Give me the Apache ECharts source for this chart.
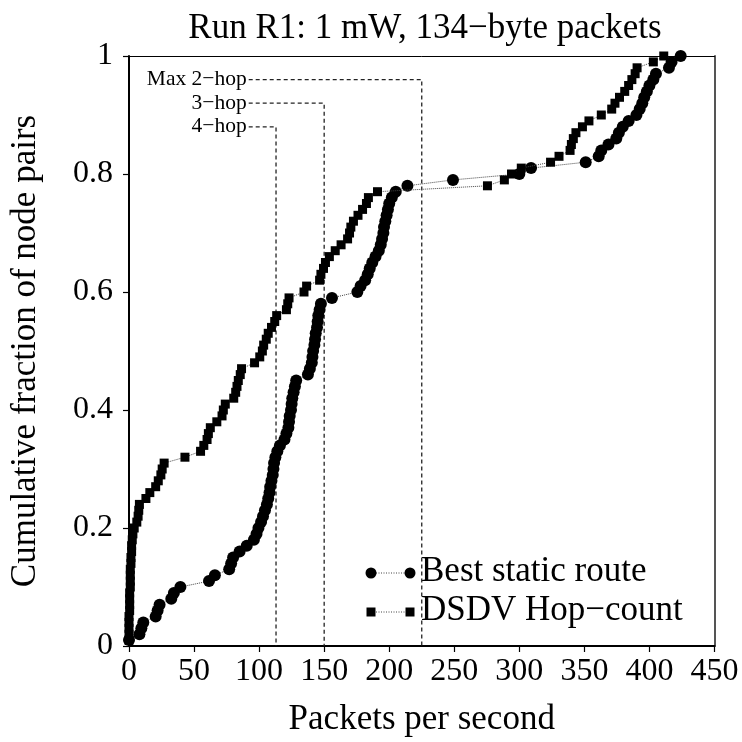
<!DOCTYPE html>
<html>
<head>
<meta charset="utf-8">
<style>
  html, body { margin: 0; padding: 0; background: #fff; }
  #chart { width: 742px; height: 742px; }
</style>
<script src="https://cdn.jsdelivr.net/npm/echarts@6/dist/echarts.min.js"></script>
</head>
<body>
<div id="chart"></div>
<script>
// Throughput (packets/s) of each node pair, sorted ascending; 100 pairs per scheme.
const staticRate = [
  0, 8, 9.5, 11, 20.5, 22, 23.5, 32.5, 34.5, 39.5,
  61.5, 66, 77, 78.5, 80, 85, 90.5, 96, 98, 99.5,
  101.5, 103, 104.5, 106, 107, 108, 108.5, 109.5, 110.5, 111,
  111.5, 112.5, 114, 116, 119.5, 121, 122.5, 123, 123.5, 124.5,
  125, 125.5, 126.5, 127.5, 128.5, 137.5, 139, 140.5, 141, 141.5,
  142.5, 143, 143.5, 144.5, 145, 145.5, 146.5, 147.5, 156, 175.5,
  178, 181.5, 183.5, 185, 187, 189.5, 192, 193.5, 194.5, 195.5,
  196, 197, 198, 199, 200, 202, 205, 214, 249, 300,
  309, 351, 361, 363, 368.5, 374.5, 376.5, 379.5, 384, 390,
  392.5, 394.5, 396, 398, 400, 403, 405, 415, 417, 424
];
const dsdvRate = [
  0, 0, 0, 0, 0, 0.5, 0.5, 0.5, 0.5, 1,
  1, 1, 1, 1.5, 1.5, 2, 2, 2.5, 3, 4,
  6, 7, 7.5, 8, 13, 16, 20.5, 22.5, 24.5, 25.5,
  27, 43, 55, 57.5, 60, 61, 62.5, 67.5, 71.5, 72.5,
  74, 80.5, 82, 83, 84, 85.5, 86.5, 96.5, 100.5, 102.5,
  103.5, 105.5, 107, 109.5, 112, 113.5, 121, 122, 123, 134.5,
  136.5, 146.5, 147.5, 149.5, 151, 154, 158.5, 163, 168, 169.5,
  170.5, 172.5, 176, 179.5, 182.5, 184, 191, 275.5, 288.5, 294,
  301.5, 324, 330.5, 339, 340, 341.5, 343.5, 348.5, 353.5, 363,
  371, 373.5, 377, 381, 384, 386.5, 389, 390.5, 403, 411
];

// Reference throughput for routes of a given hop count
const hopNames = ['Max 2\u2212hop', '3\u2212hop', '4\u2212hop'];
const hopRate = [225, 150, 113];
const hopLevel = [0.96, 0.92, 0.88];
const hopLabelX = 92;

const seriesNames = ['Best static route', 'DSDV Hop\u2212count'];
const xTicks = { min: 0, max: 450, step: 50 };
const yTicks = { min: 0, max: 1, step: 0.2 };

const FONT = '"Liberation Serif", "DejaVu Serif", serif';

// Empirical CDF: each sorted sample contributes 1/n to the cumulative fraction
function cdf(values) {
  const n = values.length;
  return values.map((v, i) => [v, (i + 1) / n]);
}

const chart = echarts.init(document.getElementById('chart'), null, { renderer: 'canvas' });

// Dashed bracket for each hop count: from the label across, then down to the axis
const hopSeries = hopNames.map((name, i) => ({
  type: 'line',
  name: name,
  data: [[hopLabelX, hopLevel[i]], [hopRate[i], hopLevel[i]], [hopRate[i], 0]],
  symbol: 'none',
  lineStyle: { color: '#222', width: 1.3, type: [4, 3] },
  silent: true,
  z: 1
}));

const hopLabelSeries = {
  type: 'scatter',
  name: 'hop labels',
  data: hopNames.map((name, i) => ({ value: [hopLabelX, hopLevel[i]], name: name })),
  symbolSize: 0,
  silent: true,
  itemStyle: { opacity: 1, color: '#000' },
  label: {
    show: true, position: 'left', distance: 2,
    formatter: p => p.name,
    fontFamily: FONT, fontSize: 21.5, color: '#000', opacity: 1
  },
  z: 2
};

const legendX = 371, legendX2 = 410, legendRow = [573, 612];

chart.setOption({
  animation: false,
  backgroundColor: '#fff',
  title: {
    text: 'Run R1: 1 mW, 134\u2212byte packets',
    left: 420, top: 6, textAlign: 'center',
    textStyle: { fontFamily: FONT, fontSize: 35, fontWeight: 'normal', color: '#000' }
  },
  grid: { left: 124.7, right: 27.5, top: 56, bottom: 96, containLabel: false },
  xAxis: [{
    type: 'value', min: xTicks.min, max: xTicks.max, interval: xTicks.step,
    name: 'Packets per second', nameLocation: 'middle', nameGap: 56,
    nameTextStyle: { fontFamily: FONT, fontSize: 35, color: '#000' },
    axisLine: { show: true, onZero: false, lineStyle: { color: '#000', width: 2 } },
    axisTick: { show: true, inside: false, length: 6, lineStyle: { color: '#000', width: 1.2 } },
    axisLabel: { fontFamily: FONT, fontSize: 32, color: '#000', margin: 10 },
    splitLine: { show: false }
  }, {
    type: 'value', position: 'top', min: xTicks.min, max: xTicks.max,
    axisLine: { show: true, onZero: false, lineStyle: { color: '#000', width: 1 } },
    axisTick: { show: false }, axisLabel: { show: false }, splitLine: { show: false }
  }],
  yAxis: [{
    type: 'value', min: yTicks.min, max: yTicks.max, interval: yTicks.step,
    name: 'Cumulative fraction of node pairs', nameLocation: 'middle', nameGap: 86,
    nameTextStyle: { fontFamily: FONT, fontSize: 35, color: '#000' },
    axisLine: { show: true, onZero: false, lineStyle: { color: '#000', width: 2 } },
    axisTick: { show: true, inside: false, length: 6, lineStyle: { color: '#000', width: 1.2 } },
    axisLabel: { fontFamily: FONT, fontSize: 32, color: '#000', margin: 16 },
    splitLine: { show: false }
  }, {
    type: 'value', position: 'right', min: yTicks.min, max: yTicks.max,
    axisLine: { show: true, onZero: false, lineStyle: { color: '#555', width: 2 } },
    axisTick: { show: false }, axisLabel: { show: false }, splitLine: { show: false }
  }],
  series: hopSeries.concat([
    hopLabelSeries,
    {
      type: 'line', name: seriesNames[0], data: cdf(staticRate),
      symbol: 'circle', symbolSize: 12,
      itemStyle: { color: '#000' },
      lineStyle: { color: '#444', width: 1, type: 'dotted' },
      z: 3
    },
    {
      type: 'line', name: seriesNames[1], data: cdf(dsdvRate),
      symbol: 'rect', symbolSize: 9,
      itemStyle: { color: '#000' },
      lineStyle: { color: '#444', width: 1, type: 'dotted' },
      z: 4
    }
  ]),
  graphic: [
    // Key: dotted line with the marker at each end, then the series name
    { type: 'line', shape: { x1: legendX, y1: legendRow[0], x2: legendX2, y2: legendRow[0] },
      style: { stroke: '#444', lineWidth: 1, lineDash: [1, 1.5] } },
    { type: 'circle', shape: { cx: legendX, cy: legendRow[0], r: 5.5 }, style: { fill: '#000' } },
    { type: 'circle', shape: { cx: legendX2, cy: legendRow[0], r: 5.5 }, style: { fill: '#000' } },
    { type: 'text', left: 421, top: legendRow[0] - 19,
      style: { text: seriesNames[0], font: '35px ' + FONT, fill: '#000' } },
    { type: 'line', shape: { x1: legendX, y1: legendRow[1], x2: legendX2, y2: legendRow[1] },
      style: { stroke: '#444', lineWidth: 1, lineDash: [1, 1.5] } },
    { type: 'rect', shape: { x: legendX - 4.5, y: legendRow[1] - 4.5, width: 9, height: 9 }, style: { fill: '#000' } },
    { type: 'rect', shape: { x: legendX2 - 4.5, y: legendRow[1] - 4.5, width: 9, height: 9 }, style: { fill: '#000' } },
    { type: 'text', left: 421, top: legendRow[1] - 19,
      style: { text: seriesNames[1], font: '35px ' + FONT, fill: '#000' } }
  ]
});
</script>
</body>
</html>
